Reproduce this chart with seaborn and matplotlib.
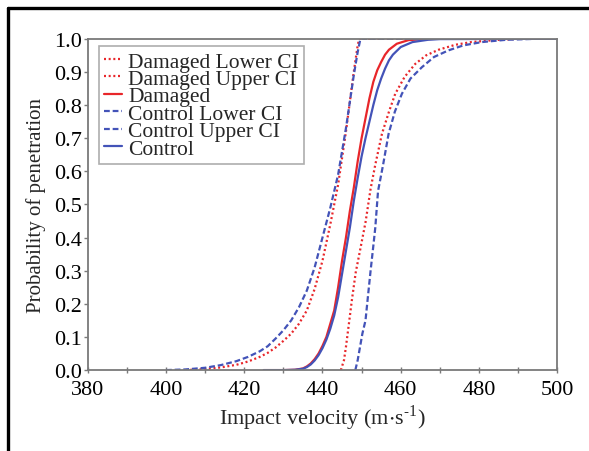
"""Penetration probability curves, damaged vs control."""

import matplotlib

matplotlib.use("Agg")

import matplotlib.pyplot as plt
import pandas as pd
import seaborn as sns
from matplotlib.lines import Line2D
from matplotlib.ticker import MultipleLocator

# values
damaged_lower_v = [405, 410, 414, 418, 421, 424, 426, 428, 430, 432, 434, 436, 438,
                   440, 442, 444, 446, 448, 449, 449.4, 500]
damaged_lower_p = [0, 0.003, 0.008, 0.016, 0.026, 0.04, 0.052, 0.068, 0.088, 0.11,
                   0.14, 0.18, 0.245, 0.33, 0.44, 0.56, 0.72, 0.90, 0.98, 1.0, 1.0]

damaged_upper_v = [444.7, 445.5, 446, 446.8, 447.5, 448.5, 449.5, 451, 452.3, 453.5,
                   455.2, 457, 458.6, 461, 463.7, 466.5, 469.7, 474, 478, 484, 490, 500]
damaged_upper_p = [0, 0.03, 0.07, 0.144, 0.21, 0.295, 0.355, 0.446, 0.547, 0.62,
                   0.713, 0.78, 0.834, 0.885, 0.924, 0.95, 0.967, 0.982, 0.99, 0.996,
                   1.0, 1.0]

damaged_v = [425, 430, 433, 435, 436, 437, 438, 439, 440, 441, 442, 443, 444, 445,
             446, 447, 448, 449, 450, 451, 452, 453, 454, 455, 456, 457, 459, 462,
             466, 470, 500]
damaged_p = [0, 0, 0.001, 0.005, 0.011, 0.02, 0.033, 0.05, 0.073, 0.10, 0.14, 0.18,
             0.25, 0.33, 0.40, 0.48, 0.55, 0.63, 0.70, 0.76, 0.82, 0.87, 0.905, 0.93,
             0.952, 0.967, 0.985, 0.996, 0.999, 1, 1]

control_lower_v = [400, 405, 410, 414, 418, 421, 424, 426, 428, 430, 432, 434, 436,
                   438, 440, 442, 444, 446, 448, 449, 449.7, 500]
control_lower_p = [0, 0.002, 0.007, 0.015, 0.027, 0.04, 0.057, 0.072, 0.095, 0.12,
                   0.15, 0.19, 0.24, 0.31, 0.40, 0.49, 0.59, 0.73, 0.89, 0.96, 1.0, 1.0]

control_upper_v = [448.4, 449, 449.6, 450.2, 451, 451.6, 452.3, 453, 453.5, 454.2,
                   455.5, 456.9, 458.5, 460.3, 462.5, 465.4, 468.5, 472.2, 476, 480.7,
                   487, 495, 500]
control_upper_p = [0, 0.03, 0.07, 0.11, 0.15, 0.22, 0.30, 0.375, 0.43, 0.54, 0.62,
                   0.713, 0.78, 0.834, 0.88, 0.914, 0.945, 0.965, 0.98, 0.99, 0.997,
                   1.0, 1.0]

control_v = [425, 430, 433, 435, 436, 437, 438, 439, 440, 441, 442, 443, 444, 445,
             446, 447, 448, 449, 450, 451, 452, 453, 454, 455, 456, 457, 458, 460,
             463, 467, 470, 500]
control_p = [0, 0, 0.001, 0.004, 0.009, 0.017, 0.029, 0.045, 0.066, 0.092, 0.125,
             0.165, 0.22, 0.29, 0.36, 0.43, 0.51, 0.58, 0.645, 0.70, 0.75, 0.80, 0.845,
             0.88, 0.91, 0.935, 0.952, 0.975, 0.99, 0.997, 0.999, 1]

curve_names = ["Damaged Lower CI", "Damaged Upper CI", "Damaged",
               "Control Lower CI", "Control Upper CI", "Control"]

RED = "#e8262a"
BLUE = "#4353b8"

curves = {
    "Damaged Lower CI": (damaged_lower_v, damaged_lower_p),
    "Damaged Upper CI": (damaged_upper_v, damaged_upper_p),
    "Damaged": (damaged_v, damaged_p),
    "Control Lower CI": (control_lower_v, control_lower_p),
    "Control Upper CI": (control_upper_v, control_upper_p),
    "Control": (control_v, control_p),
}

frames = []
for name in curve_names:
    v, p = curves[name]
    frames.append(pd.DataFrame({"velocity": v, "probability": p, "curve": name}))
df = pd.concat(frames, ignore_index=True)

palette = {name: (RED if name.startswith("Damaged") else BLUE) for name in curve_names}
dashes = {
    "Damaged Lower CI": (0.9, 1.2),
    "Damaged Upper CI": (0.9, 1.2),
    "Damaged": "",
    "Control Lower CI": (2.6, 1.3),
    "Control Upper CI": (2.6, 1.3),
    "Control": "",
}

sns.set_theme(style="white")
plt.rcParams["font.family"] = ["Liberation Serif", "DejaVu Serif"]
plt.rcParams["mathtext.fontset"] = "stix"

fig, ax = plt.subplots(figsize=(5.89, 4.52), dpi=100)
fig.subplots_adjust(left=0.149, right=0.946, top=0.912, bottom=0.179)

sns.lineplot(data=df, x="velocity", y="probability", hue="curve", style="curve",
             palette=palette, dashes=dashes, hue_order=curve_names,
             style_order=curve_names, estimator=None, sort=False, linewidth=1.6,
             ax=ax)

ax.set_xlim(380, 500)
ax.set_ylim(0, 1)
ax.xaxis.set_major_locator(MultipleLocator(20))
ax.xaxis.set_minor_locator(MultipleLocator(10))
ax.yaxis.set_major_locator(MultipleLocator(0.1))
ax.set_yticklabels([f"{t:.1f}" for t in ax.get_yticks()])

for spine in ax.spines.values():
    spine.set_color("#7a7a7a")
    spine.set_linewidth(1.3)

ax.tick_params(axis="both", which="both", labelsize=16, colors="#7a7a7a",
               labelcolor="black", width=1)
ax.tick_params(axis="y", which="major", direction="out", length=3, left=True, pad=1)
ax.tick_params(axis="x", which="both", direction="inout", length=4, bottom=True,
               pad=5)

ax.set_xlabel(r"Impact velocity (m$\cdot$s$^{\mathregular{\text{-}1}}$)",
              fontsize=16, labelpad=3)
ax.set_ylabel("Probability of penetration", fontsize=15, labelpad=6)

handles, labels = ax.get_legend_handles_labels()
leg = ax.legend(handles, labels, loc="upper left", bbox_to_anchor=(0.024, 0.978),
                fontsize=15.5, frameon=True, fancybox=False, handlelength=0.8,
                handletextpad=0.3, labelspacing=-0.12, borderpad=0.25,
                borderaxespad=0)
leg.get_frame().set_edgecolor("#9a9a9a")
leg.get_frame().set_linewidth(1.2)

# page frame lines (top and left)
fig.add_artist(Line2D([0.0136, 1.0], [0.980, 0.980], transform=fig.transFigure,
                      color="black", linewidth=2.4))
fig.add_artist(Line2D([0.0136, 0.0136], [0.0, 0.980], transform=fig.transFigure,
                      color="black", linewidth=2.4))

fig.savefig("out.png", dpi=100)
plt.close(fig)
